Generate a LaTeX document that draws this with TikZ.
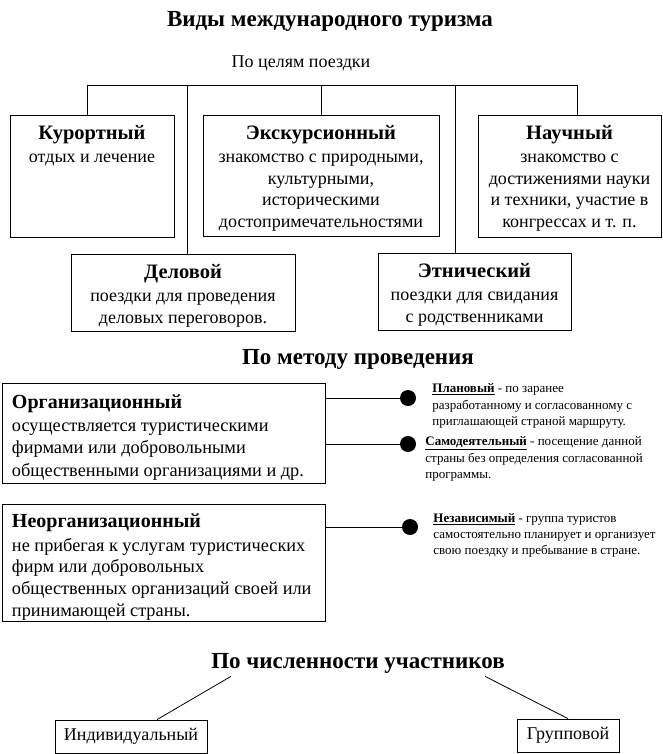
\documentclass[tikz,border=0pt]{standalone}
\usepackage{fontspec}
\setmainfont{Liberation Serif}
\usetikzlibrary{positioning,calc}

\newcommand{\hd}[1]{{\fontsize{20.5}{23}\selectfont\bfseries #1}}

\tikzset{
  box/.style={draw, rectangle, inner sep=0pt},
  boxtext/.style={align=center, inner sep=0pt, font=\fontsize{18}{21.5}\selectfont},
  sidetext/.style={align=left, inner sep=0pt, anchor=north west,
    font=\fontsize{18.3}{22.6}\selectfont},
  bighead/.style={inner sep=0pt, font=\fontsize{23}{27}\selectfont\bfseries},
  note/.style={align=left, inner sep=0pt, anchor=north west, font=\fontsize{13}{16.3}\selectfont},
  dot/.style={circle, fill, inner sep=0pt, minimum size=16pt},
}

\begin{document}
\begin{tikzpicture}[x=1pt, y=-1pt, line width=0.8pt]
\useasboundingbox (0,0) rectangle (663,754);

% title
\node[bighead] (title) at (330,21) {Виды международного туризма};

% by purpose
\node[boxtext] (goal) at (301,63) {По целям поездки};
\coordinate (bar) at (0,85);

\node[box, minimum width=164pt, minimum height=122pt] (kurort) at (92,176) {};
\node[boxtext, below=10pt of kurort.north] (kurortT) {\hd{Курортный}\\[2pt]отдых и лечение};

\node[box, minimum width=236pt, minimum height=121pt] (ekskurs) at (321,175.5) {};
\node[boxtext, below=10pt of ekskurs.north] (ekskursT) {\hd{Экскурсионный}\\[2pt]знакомство с природными,\\культурными,\\историческими\\достопримечательностями};

\node[box, minimum width=183pt, minimum height=122pt] (nauch) at (569.5,176) {};
\node[boxtext, below=10pt of nauch.north] (nauchT) {\hd{Научный}\\[2pt]знакомство с\\достижениями науки\\и техники, участие в\\конгрессах и т. п.};

\node[box, minimum width=224pt, minimum height=77pt] (delovoy) at (183,292.5) {};
\node[boxtext, below=10pt of delovoy.north] (delovoyT) {\hd{Деловой}\\[2pt]поездки для проведения\\деловых переговоров.};

\node[box, minimum width=193pt, minimum height=77pt] (etnich) at (474.5,291.5) {};
\node[boxtext, below=10pt of etnich.north] (etnichT) {\hd{Этнический}\\[2pt]поездки для свидания\\с родственниками};

\draw (kurort.north) ++(-5,0) coordinate (kk) -- (kk |- bar) -| ($(nauch.north)+(7.5,0)$);
\draw (ekskurs.north) -- (ekskurs.north |- bar);
\draw ($(delovoy.north)+(4,0)$) coordinate (dd) -- (dd |- bar);
\draw ($(etnich.north)+(-19.5,0)$) coordinate (ee) -- (ee |- bar);

% by method
\node[bighead] (method) at (358,359) {По методу проведения};

\node[box, minimum width=323pt, minimum height=100pt] (org) at (163.5,433) {};
\node[sidetext] (orgT) at ($(org.north west)+(10,12)$)
  {{\fontsize{20}{24}\selectfont\bfseries Организационный}\\осуществляется туристическими\\фирмами или добровольными\\общественными организациями и~др.};

\node[box, minimum width=323pt, minimum height=117pt] (neorg) at (163.5,562.5) {};
\node[sidetext, font=\fontsize{18.3}{21.8}\selectfont] (neorgT) at ($(neorg.north west)+(10,10)$)
  {{\fontsize{20}{24}\selectfont\bfseries Неорганизационный}\\[1.5pt]не прибегая к услугам туристических\\фирм или добровольных\\общественных организаций своей или\\принимающей страны.};

\node[dot] (d1) at (408,398) {};
\node[dot] (d2) at (408,444) {};
\node[dot] (d3) at (410,527) {};
\draw (org.east |- d1) -- (d1);
\draw (org.east |- d2) -- (d2);
\draw (neorg.east |- d3) -- (d3);

\node[note] (plan) at (432,383.5) {\underline{\textbf{Плановый}} - по заранее\\разработанному и согласованному с\\приглашающей страной маршруту.};
\node[note] (samo) at (425,436.5) {\underline{\textbf{Самодеятельный}} - посещение данной\\страны без определения согласованной\\программы.};
\node[note] (nezav) at (433,513) {\underline{\textbf{Независимый}} - группа туристов\\самостоятельно планирует и организует\\свою поездку и пребывание в стране.};

% by number of participants
\node[bighead] (count) at (358,663) {По численности участников};
\node[box, boxtext, minimum width=152pt, minimum height=33pt] (indiv) at (131,736.5) {Индивидуальный};
\node[box, boxtext, minimum width=102pt, minimum height=33pt] (grupp) at (568,735.5) {Групповой};
\draw ($(count.south west)+(20,3)$) -- ($(indiv.north)+(26,0)$);
\draw ($(count.south east)+(-20,3)$) -- (grupp.north);
\end{tikzpicture}
\end{document}
